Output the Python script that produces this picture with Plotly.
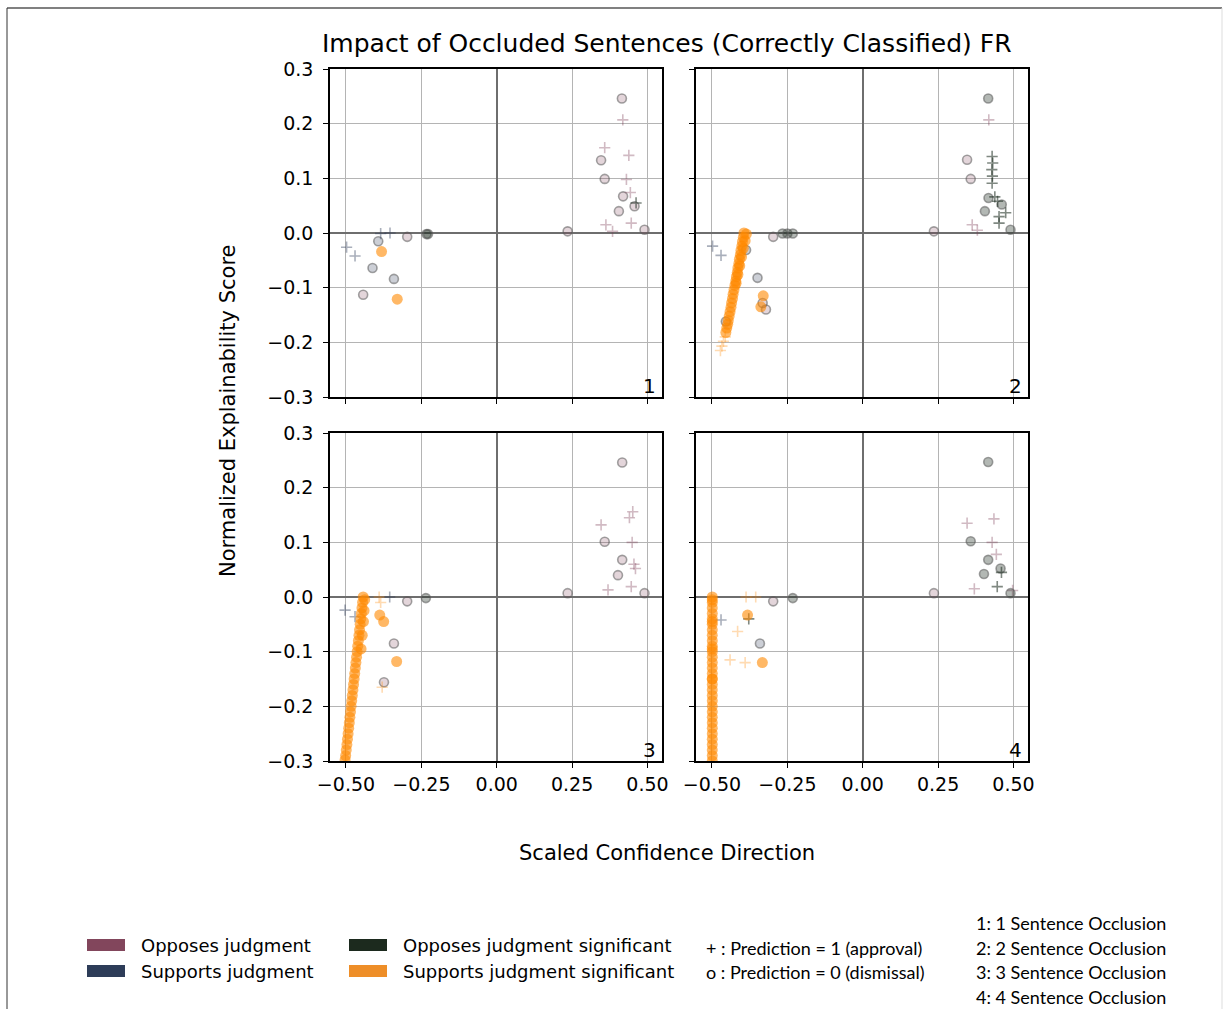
import plotly.graph_objects as go

# ---------------- data ----------------
CATS = ["Opposes judgment", "Supports judgment", "Opposes judgment significant", "Supports judgment significant"]
CAT_COLORS = {"O": (122, 58, 82), "S": (40, 56, 84), "OS": (24, 40, 28), "SS": (255, 136, 0)}
CAT_ALPHA = {"O": 0.35, "S": 0.4, "OS": 0.55, "SS": 0.6}

x_ticks = [-0.5, -0.25, 0.0, 0.25, 0.5]
x_ticktext = ["\u22120.50", "\u22120.25", "0.00", "0.25", "0.50"]
y_ticks = [-0.3, -0.2, -0.1, 0.0, 0.1, 0.2, 0.3]
y_ticktext = ["\u22120.3", "\u22120.2", "\u22120.1", "0.0", "0.1", "0.2", "0.3"]

# Panel 1: 1 sentence occlusion
p1_x = [0.415, 0.418, 0.358, 0.438, 0.346, 0.358, 0.430, 0.443, 0.419, 0.457, 0.462, 0.405, 0.446, 0.362, 0.384, 0.490, 0.235,
        -0.233, -0.228, -0.297, -0.385, -0.354, -0.393, -0.382, -0.498, -0.470, -0.412, -0.341, -0.443, -0.330]
p1_y = [0.246, 0.207, 0.156, 0.142, 0.133, 0.099, 0.098, 0.074, 0.067, 0.049, 0.055, 0.040, 0.018, 0.015, 0.003, 0.006, 0.003,
        -0.002, -0.002, -0.007, -0.001, 0.000, -0.015, -0.034, -0.026, -0.042, -0.064, -0.084, -0.113, -0.121]
p1_cat = ["O", "O", "O", "O", "O", "O", "O", "O", "O", "O", "OS", "O", "O", "O", "O", "O", "O",
          "OS", "OS", "O", "S", "S", "S", "SS", "S", "S", "S", "S", "O", "SS"]
p1_pred = [0, 1, 1, 1, 0, 0, 1, 1, 0, 0, 1, 0, 1, 1, 1, 0, 0,
           0, 0, 0, 1, 1, 0, 0, 1, 1, 0, 0, 0, 0]

# Panel 2: 2 sentence occlusion
p2_x = [0.416, 0.346, 0.429, 0.431, 0.428, 0.430, 0.429, 0.358, 0.417, 0.438, 0.447, 0.461, 0.405, 0.474, 0.452, 0.452, 0.363, 0.380, 0.490, 0.236, 0.418,
        -0.266, -0.250, -0.232, -0.297, -0.498, -0.470, -0.387, -0.349, -0.454, -0.332, -0.321, -0.338, -0.330,
        -0.394, -0.396, -0.399, -0.401, -0.404, -0.406, -0.409, -0.411, -0.414, -0.416, -0.419, -0.421, -0.424, -0.427, -0.430,
        -0.432, -0.435, -0.437, -0.440, -0.443, -0.446, -0.448, -0.451, -0.454, -0.456, -0.462, -0.467, -0.472,
        -0.386, -0.390, -0.396, -0.402, -0.408, -0.414, -0.420]
p2_y = [0.246, 0.134, 0.140, 0.128, 0.116, 0.104, 0.091, 0.099, 0.064, 0.066, 0.058, 0.052, 0.040, 0.037, 0.018, 0.030, 0.015, 0.005, 0.006, 0.003, 0.207,
        -0.001, -0.001, -0.001, -0.007, -0.024, -0.041, -0.031, -0.082, -0.162, -0.128, -0.140, -0.135, -0.115,
        0.000, -0.008, -0.016, -0.024, -0.032, -0.040, -0.048, -0.056, -0.064, -0.072, -0.080, -0.088, -0.096, -0.104, -0.112,
        -0.120, -0.128, -0.136, -0.144, -0.152, -0.160, -0.167, -0.174, -0.182, -0.190, -0.198, -0.207, -0.215,
        -0.002, -0.014, -0.028, -0.044, -0.060, -0.076, -0.092]
p2_cat = ["OS", "O", "OS", "OS", "OS", "OS", "OS", "O", "OS", "OS", "OS", "OS", "OS", "OS", "OS", "OS", "O", "O", "OS", "O", "O",
          "OS", "OS", "OS", "O", "S", "S", "S", "S", "S", "O", "O", "SS", "SS",
          "SS", "SS", "SS", "SS", "SS", "SS", "SS", "SS", "SS", "SS", "SS", "SS", "SS", "SS", "SS",
          "SS", "SS", "SS", "SS", "SS", "SS", "SS", "SS", "SS", "SS", "SS", "SS", "SS",
          "SS", "SS", "SS", "SS", "SS", "SS", "SS"]
p2_pred = [0, 0, 1, 1, 1, 1, 1, 0, 0, 1, 1, 0, 0, 1, 1, 1, 1, 1, 0, 0, 1,
           0, 0, 0, 0, 1, 1, 0, 0, 0, 0, 0, 0, 0,
           0, 0, 0, 0, 0, 0, 0, 0, 0, 0, 0, 0, 0, 0, 0,
           0, 0, 0, 0, 0, 0, 0, 0, 0, 1, 1, 1, 1,
           0, 0, 0, 0, 0, 0, 0]

# Panel 3: 3 sentence occlusion
p3_x = [0.416, 0.451, 0.440, 0.346, 0.358, 0.449, 0.416, 0.460, 0.455, 0.402, 0.446, 0.490, 0.369, 0.235,
        -0.235, -0.297, -0.388, -0.390, -0.385, -0.375, -0.332, -0.341, -0.374, -0.380, -0.503, -0.470, -0.355,
        -0.443, -0.445, -0.447, -0.449, -0.451, -0.453, -0.455, -0.457, -0.459, -0.461, -0.463, -0.465, -0.467, -0.469,
        -0.471, -0.473, -0.475, -0.477, -0.479, -0.481, -0.483, -0.485, -0.487, -0.489, -0.491, -0.493, -0.495, -0.497,
        -0.499, -0.501, -0.503, -0.438, -0.440, -0.442, -0.446, -0.450]
p3_y = [0.246, 0.156, 0.145, 0.132, 0.101, 0.100, 0.068, 0.052, 0.060, 0.040, 0.019, 0.007, 0.013, 0.007,
        -0.002, -0.008, -0.033, 0.000, -0.010, -0.045, -0.118, -0.085, -0.156, -0.165, -0.024, -0.036, 0.000,
        0.000, -0.010, -0.020, -0.030, -0.040, -0.050, -0.060, -0.070, -0.080, -0.090, -0.100, -0.110, -0.120, -0.130,
        -0.140, -0.150, -0.160, -0.170, -0.180, -0.190, -0.200, -0.210, -0.220, -0.230, -0.240, -0.250, -0.260, -0.270,
        -0.280, -0.290, -0.298, -0.005, -0.025, -0.045, -0.070, -0.095]
p3_cat = ["O", "O", "O", "O", "O", "O", "O", "O", "O", "O", "O", "O", "O", "O",
          "OS", "O", "SS", "SS", "SS", "SS", "SS", "O", "O", "SS", "S", "S", "S",
          "SS", "SS", "SS", "SS", "SS", "SS", "SS", "SS", "SS", "SS", "SS", "SS", "SS", "SS",
          "SS", "SS", "SS", "SS", "SS", "SS", "SS", "SS", "SS", "SS", "SS", "SS", "SS", "SS",
          "SS", "SS", "SS", "SS", "SS", "SS", "SS", "SS"]
p3_pred = [0, 1, 1, 1, 0, 1, 0, 1, 1, 0, 1, 0, 1, 0,
           0, 0, 0, 1, 1, 0, 0, 0, 0, 1, 1, 1, 1,
           0, 0, 0, 0, 0, 0, 0, 0, 0, 0, 0, 0, 0, 0,
           0, 0, 0, 0, 0, 0, 0, 0, 0, 0, 0, 0, 0, 0,
           0, 0, 0, 0, 0, 0, 0, 0]

# Panel 4: 4 sentence occlusion
p4_x = [0.416, 0.346, 0.435, 0.358, 0.429, 0.443, 0.416, 0.457, 0.460, 0.402, 0.446, 0.490, 0.497, 0.370, 0.236,
        -0.232, -0.297, -0.470, -0.387, -0.382, -0.378, -0.415, -0.341, -0.333, -0.440, -0.390, -0.355,
        -0.499, -0.499, -0.499, -0.499, -0.499, -0.499, -0.499, -0.499, -0.499, -0.499, -0.499, -0.499, -0.499, -0.499,
        -0.499, -0.499, -0.499, -0.499, -0.499, -0.499, -0.499, -0.499, -0.499, -0.499, -0.499, -0.499, -0.499, -0.499,
        -0.499, -0.499, -0.499, -0.499, -0.499, -0.499, -0.499]
p4_y = [0.247, 0.135, 0.143, 0.102, 0.100, 0.078, 0.068, 0.052, 0.045, 0.042, 0.019, 0.007, 0.012, 0.015, 0.007,
        -0.002, -0.008, -0.042, 0.000, -0.033, -0.040, -0.063, -0.085, -0.120, -0.115, -0.120, 0.000,
        0.000, -0.010, -0.020, -0.030, -0.040, -0.050, -0.060, -0.070, -0.080, -0.090, -0.100, -0.110, -0.120, -0.130,
        -0.140, -0.150, -0.160, -0.170, -0.180, -0.190, -0.200, -0.210, -0.220, -0.230, -0.240, -0.250, -0.260, -0.270,
        -0.280, -0.290, -0.300, -0.005, -0.045, -0.095, -0.150]
p4_cat = ["OS", "O", "O", "OS", "O", "O", "OS", "OS", "OS", "OS", "OS", "OS", "O", "O", "O",
          "OS", "O", "S", "SS", "SS", "OS", "SS", "S", "SS", "SS", "SS", "SS",
          "SS", "SS", "SS", "SS", "SS", "SS", "SS", "SS", "SS", "SS", "SS", "SS", "SS", "SS",
          "SS", "SS", "SS", "SS", "SS", "SS", "SS", "SS", "SS", "SS", "SS", "SS", "SS", "SS",
          "SS", "SS", "SS", "SS", "SS", "SS", "SS"]
p4_pred = [0, 1, 1, 0, 1, 1, 0, 0, 1, 0, 1, 0, 1, 1, 0,
           0, 0, 1, 1, 0, 1, 1, 0, 0, 1, 1, 1,
           0, 0, 0, 0, 0, 0, 0, 0, 0, 0, 0, 0, 0, 0,
           0, 0, 0, 0, 0, 0, 0, 0, 0, 0, 0, 0, 0, 0,
           0, 0, 0, 0, 0, 0, 0]

panels = [(p1_x, p1_y, p1_cat, p1_pred), (p2_x, p2_y, p2_cat, p2_pred),
          (p3_x, p3_y, p3_cat, p3_pred), (p4_x, p4_y, p4_cat, p4_pred)]
panel_labels = ["1", "2", "3", "4"]

# ---------------- layout geometry ----------------
W, H = 1230, 1009
def px_x(p):
    return p / W
def px_y(p):
    return 1 - p / H

x_domains = [[px_x(330), px_x(662)], [px_x(696), px_x(1028)]]
y_domains = [[px_y(397), px_y(69)], [px_y(761), px_y(433)]]

FONT = "DejaVu Sans"
fig = go.Figure()

def rgba(c, a):
    return "rgba(%d,%d,%d,%.2f)" % (c[0], c[1], c[2], a)

for i, (xs, ys, cs, ps) in enumerate(panels):
    ax = "" if i == 0 else str(i + 1)
    for cat in ["O", "S", "OS", "SS"]:
        for pred in [0, 1]:
            gx = [x for x, c, p in zip(xs, cs, ps) if c == cat and p == pred]
            gy = [y for y, c, p in zip(ys, cs, ps) if c == cat and p == pred]
            if not gx:
                continue
            col = CAT_COLORS[cat]
            a = CAT_ALPHA[cat]
            if pred == 0:
                if cat == "SS":
                    marker = dict(symbol="circle", size=11, color=rgba(col, a),
                                  line=dict(width=0))
                else:
                    marker = dict(symbol="circle", size=9, color=rgba(col, a * 0.6),
                                  line=dict(color="rgba(90,90,90,0.55)", width=1.6))
            else:
                pa = a * 0.5 if cat == "SS" else a
                marker = dict(symbol="cross-thin", size=8, color=rgba(col, pa),
                              line=dict(color=rgba(col, pa), width=1.6))
            fig.add_trace(go.Scatter(x=gx, y=gy, mode="markers", marker=marker,
                                     xaxis="x" + ax, yaxis="y" + ax, showlegend=False,
                                     hoverinfo="skip"))

axis_common = dict(showgrid=True, gridcolor="#b4b4b4", gridwidth=1,
                   zeroline=True, zerolinecolor="#6e6e6e", zerolinewidth=2,
                   showline=True, linecolor="black", linewidth=1.5, mirror=True,
                   ticks="outside", ticklen=5, tickwidth=1.2, tickcolor="black",
                   automargin=False,
                   tickfont=dict(family=FONT, size=19, color="black"))

layout = dict(width=W, height=H, margin=dict(l=0, r=0, t=0, b=0, pad=0, autoexpand=False),
              autosize=False,
              paper_bgcolor="white", plot_bgcolor="white", showlegend=False,
              font=dict(family=FONT, color="black"))

for i in range(4):
    row, col = divmod(i, 2)
    ax = "" if i == 0 else str(i + 1)
    xa = dict(axis_common, domain=x_domains[col], range=[-0.553, 0.548],
              tickvals=x_ticks, ticktext=x_ticktext, anchor="y" + ax,
              showticklabels=(row == 1))
    ya = dict(axis_common, domain=y_domains[row], range=[-0.3, 0.3],
              tickvals=y_ticks, ticktext=y_ticktext, anchor="x" + ax,
              showticklabels=(col == 0), ticklabelstandoff=6)
    layout["xaxis" + ax] = xa
    layout["yaxis" + ax] = ya

fig.update_layout(**layout)

annotations = []
for i in range(4):
    ax = "" if i == 0 else str(i + 1)
    annotations.append(dict(text=panel_labels[i], xref="x" + ax + " domain", yref="y" + ax + " domain",
                            x=1.0, y=0.0, xanchor="right", yanchor="bottom", showarrow=False,
                            font=dict(family=FONT, size=20, color="black"), xshift=-4, yshift=-3))

annotations.append(dict(text="Impact of Occluded Sentences (Correctly Classified) FR", xref="paper", yref="paper",
                        x=px_x(667), y=px_y(43), xanchor="center", yanchor="middle", showarrow=False,
                        font=dict(family=FONT, size=25, color="black")))
annotations.append(dict(text="Scaled Confidence Direction", xref="paper", yref="paper",
                        x=px_x(667), y=px_y(853), xanchor="center", yanchor="middle", showarrow=False,
                        font=dict(family=FONT, size=21, color="black")))
annotations.append(dict(text="Normalized Explainability Score", xref="paper", yref="paper",
                        x=px_x(228), y=px_y(411), xanchor="center", yanchor="middle", showarrow=False,
                        textangle=-90, font=dict(family=FONT, size=21, color="black")))

# legend (drawn as shapes + text)
legend_items = [("Opposes judgment", (130, 70, 92), 87, 945),
                ("Supports judgment", (45, 60, 88), 87, 971),
                ("Opposes judgment significant", (28, 42, 30), 349, 945),
                ("Supports judgment significant", (238, 142, 40), 349, 971)]
shapes = []
for label, col, lx, ly in legend_items:
    shapes.append(dict(type="rect", xref="paper", yref="paper",
                       x0=px_x(lx), x1=px_x(lx + 38), y0=px_y(ly + 6), y1=px_y(ly - 6),
                       fillcolor=rgba(col, 1.0), line=dict(width=0)))
    annotations.append(dict(text=label, xref="paper", yref="paper", x=px_x(lx + 52), y=px_y(ly),
                            xanchor="left", yanchor="middle", showarrow=False,
                            font=dict(family=FONT, size=18, color="black")))

pred_notes = ["+ : Prediction = 1 (approval)", "o : Prediction = 0 (dismissal)"]
for k, t in enumerate(pred_notes):
    annotations.append(dict(text=t, xref="paper", yref="paper", x=px_x(704), y=px_y(948 + 24 * k),
                            xanchor="left", yanchor="middle", showarrow=False,
                            font=dict(family="Lato", size=18, color="black")))
occl_notes = ["1: 1 Sentence Occlusion", "2: 2 Sentence Occlusion", "3: 3 Sentence Occlusion", "4: 4 Sentence Occlusion"]
for k, t in enumerate(occl_notes):
    annotations.append(dict(text=t, xref="paper", yref="paper", x=px_x(974), y=px_y(923 + 24.5 * k),
                            xanchor="left", yanchor="middle", showarrow=False,
                            font=dict(family="Lato", size=18, color="black")))

# figure border
shapes.append(dict(type="line", xref="paper", yref="paper", x0=px_x(7), x1=px_x(1222), y0=px_y(8), y1=px_y(8),
                   line=dict(color="#808080", width=2)))
shapes.append(dict(type="line", xref="paper", yref="paper", x0=px_x(7), x1=px_x(7), y0=px_y(8), y1=0,
                   line=dict(color="#333333", width=1)))
shapes.append(dict(type="line", xref="paper", yref="paper", x0=px_x(1222), x1=px_x(1222), y0=px_y(8), y1=0,
                   line=dict(color="#dddddd", width=1)))

fig.update_layout(annotations=annotations, shapes=shapes)
fig.write_html("out.html", post_script="document.body.style.margin='0';document.body.style.overflow='hidden';")
